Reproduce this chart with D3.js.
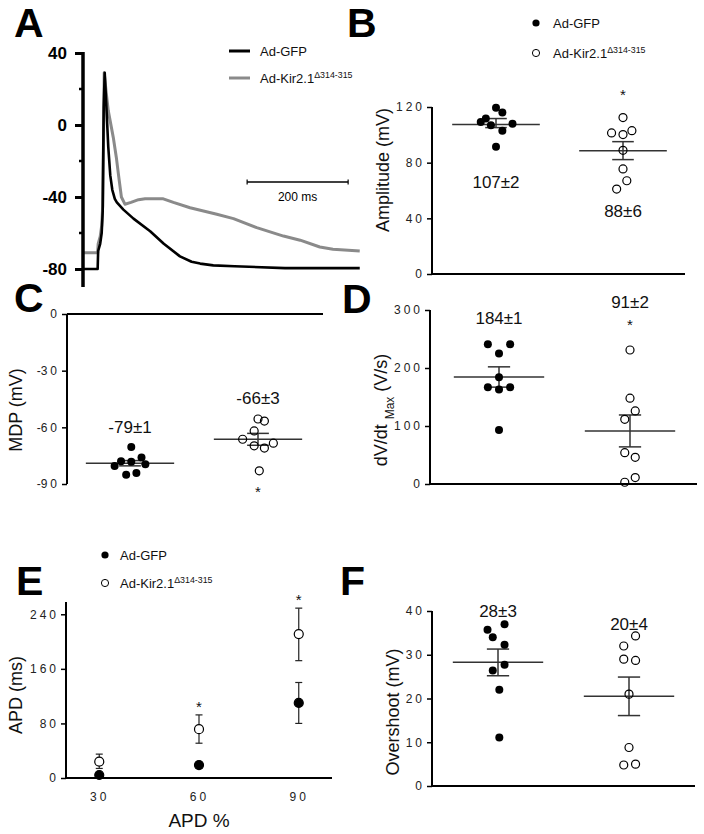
<!DOCTYPE html>
<html><head><meta charset="utf-8">
<script src="https://cdn.jsdelivr.net/npm/d3@7"></script>
<style>
body{margin:0;background:#fff}
svg{display:block}
text{font-family:"Liberation Sans",Arial,Helvetica,sans-serif}
</style>
</head><body>
<svg id="fig" width="704" height="834"></svg>
<script>
// ---------- DATA ----------
const seriesNames = ["Ad-GFP", "Ad-Kir2.1"];
const seriesSup = ["", "\u0394314-315"];

// Panel A: action potential traces (time ms, membrane potential mV)
const gfpTime = [0, 29, 30, 34, 37, 39, 41, 43, 46, 50, 54, 58, 63, 67, 80, 100, 133, 160, 192, 215, 232, 258, 300, 400, 548];
const gfpMV   = [-80, -80, -70, -66, -60, -48, 10, 29, 12, -12, -28, -36, -41, -43, -47, -52, -59, -66, -73, -76, -77, -78, -78.5, -79.5, -79.5];
const kirTime = [0, 29, 30, 34, 37, 39, 41, 42, 46, 50, 60, 66, 70, 76, 83, 95, 110, 123, 159, 179, 212, 265, 298, 344, 397, 430, 469, 495, 548];
const kirMV   = [-71, -71, -66, -62, -56, -45, 0, 29, 18, 8, -7, -18, -27, -40, -44, -43, -41.5, -41, -41, -43, -46, -49.6, -52, -57, -61.7, -64, -67.8, -69, -70];
const aTicks = [40, 0, -40, -80];
const aMinorTicks = [20, -20, -60];

// Panel B: amplitude (mV)
const ampGFP = [119.4, 116, 111.7, 109.3, 106.9, 103, 107.9, 91.5];
const ampKir = [112.4, 101.4, 100.2, 103, 88.9, 75.5, 67, 61];
const ampJitGFP = [0, .05, -.08, -.12, -.04, .05, .13, 0];
const ampJitKir = [0, -.09, 0, .07, 0, 0, .03, -.05];
const ampMean = [107.5, 88.6];
const ampErrHi = [111.7, 95.1];
const ampErrLo = [105.2, 82.2];
const ampLabels = ["107\u00b12", "88\u00b16"];
const ampTicks = [0, 40, 80, 120];

// Panel C: MDP (mV)
const mdpGFP = [-70.4, -77.9, -78.2, -76, -80.5, -79.6, -85.1, -84.2];
const mdpKir = [-55.6, -56.7, -61.9, -66.3, -69.8, -71, -68.4, -83];
const mdpJitGFP = [.01, -.07, .01, .09, -.12, .12, -.03, .05];
const mdpJitKir = [0, .05, -.03, -.12, -.03, .05, .12, .01];
const mdpMean = [-79, -66.3];
const mdpErrHi = [-77.6, -63.2];
const mdpErrLo = [-80.4, -69.5];
const mdpLabels = ["-79\u00b11", "-66\u00b13"];
const mdpTicks = [0, -30, -60, -90];

// Panel D: dV/dt max (V/s)
const dvGFP = [241, 241, 225, 184, 167, 163, 167, 93];
const dvKir = [231, 148, 126, 111.5, 54, 46, 3, 11];
const dvJitGFP = [-.085, .085, 0, 0, -.085, 0, .085, 0];
const dvJitKir = [0, 0, .04, -.04, -.04, .04, -.04, .04];
const dvMean = [184.5, 91.4];
const dvErrHi = [202, 119];
const dvErrLo = [167, 64];
const dvLabels = ["184\u00b11", "91\u00b12"];
const dvTicks = [0, 100, 200, 300];

// Panel E: APD (ms) at APD %
const apdPct = [30, 60, 90];
const apdGFP = [4.4, 19, 110];
const apdGFPHi = [7, 23, 140];
const apdGFPLo = [2, 15, 80];
const apdKir = [24, 71.5, 211];
const apdKirHi = [35, 92.5, 249];
const apdKirLo = [14, 51, 172];
const apdTicks = [0, 80, 160, 240];

// Panel F: overshoot (mV)
const ovGFP = [35.7, 37, 34, 32.3, 26.4, 27.7, 22, 11.1];
const ovKir = [34.3, 32, 29, 28.7, 21, 8.8, 4.8, 5];
const ovJitGFP = [-.08, .05, -.04, .05, -.04, .05, .01, .01];
const ovJitKir = [.05, -.04, -.04, .05, 0, 0, -.04, .05];
const ovMean = [28.3, 20.5];
const ovErrHi = [31.3, 24.9];
const ovErrLo = [25.2, 16.1];
const ovLabels = ["28\u00b13", "20\u00b14"];
const ovTicks = [0, 10, 20, 30, 40];

// ---------- DRAWING ----------
const svg = d3.select("#fig");
const FONT = '"Liberation Sans",Arial,Helvetica,sans-serif';
const fmt = d => String(d);

function panelLetter(t, x, y) {
  svg.append("text").attr("x", x).attr("y", y).text(t)
    .attr("font-size", 41).attr("font-weight", "bold").attr("fill", "#000");
}

function legendLabel(g, x, y, i, size) {
  const t = g.append("text").attr("x", x).attr("y", y).attr("dy", "0.35em")
    .attr("font-size", size).attr("fill", "#111");
  t.append("tspan").text(seriesNames[i]);
  if (seriesSup[i]) t.append("tspan").attr("font-size", size * 0.68).attr("dy", "-0.55em").text(seriesSup[i]);
}

function styleTicks(axisG) {
  axisG.selectAll("text").attr("font-size", 12).attr("fill", "#222").attr("font-family", FONT)
    .each(function (d) {
      const s = String(d), el = d3.select(this);
      el.text(null);
      if (s[0] === "-") {
        el.append("tspan").attr("letter-spacing", "0px").text("-");
        el.append("tspan").attr("letter-spacing", "3px").text(s.slice(1));
      } else {
        el.append("tspan").attr("letter-spacing", "3px").text(s);
      }
    });
  axisG.selectAll("line").attr("stroke", "#000").attr("stroke-width", 1.5);
  axisG.select(".domain").remove();
}

// Panel A
(function () {
  panelLetter("A", 14, 37);
  const x = d3.scaleLinear().domain([0, 550]).range([83, 360.75]);
  const y = d3.scaleLinear().domain([-90, 40]).range([287, 53]);
  const g = svg.append("g");
  const line = d3.line().x(d => x(d[0])).y(d => y(d[1]));
  g.append("path").datum(kirTime.map((t, i) => [t, kirMV[i]]))
    .attr("d", line).attr("fill", "none").attr("stroke", "#8a8a8a").attr("stroke-width", 3).attr("stroke-linejoin", "round");
  g.append("path").datum(gfpTime.map((t, i) => [t, gfpMV[i]]))
    .attr("d", line).attr("fill", "none").attr("stroke", "#000").attr("stroke-width", 2.6).attr("stroke-linejoin", "round");
  const ax = g.append("g").attr("transform", "translate(83,0)")
    .call(d3.axisLeft(y).tickValues(aTicks).tickSize(8).tickPadding(8).tickFormat(fmt));
  ax.select(".domain").remove();
  ax.selectAll("line").attr("stroke", "#000").attr("stroke-width", 3);
  ax.selectAll("text").attr("font-size", 17).attr("font-weight", "bold").attr("fill", "#000").attr("font-family", FONT);
  g.selectAll(".minor").data(aMinorTicks).enter().append("line")
    .attr("x1", 79).attr("x2", 83).attr("y1", d => y(d)).attr("y2", d => y(d))
    .attr("stroke", "#000").attr("stroke-width", 2.5);
  g.append("line").attr("x1", 83).attr("x2", 83).attr("y1", y(40) - 1).attr("y2", y(-90))
    .attr("stroke", "#000").attr("stroke-width", 3.5);
  const x0 = x(325), x1 = x(525);
  g.append("line").attr("x1", x0).attr("x2", x1).attr("y1", 182).attr("y2", 182).attr("stroke", "#000").attr("stroke-width", 1.5);
  [x0, x1].forEach(xx => g.append("line").attr("x1", xx).attr("x2", xx).attr("y1", 179.5).attr("y2", 184.5).attr("stroke", "#000").attr("stroke-width", 1.2));
  g.append("text").attr("x", (x0 + x1) / 2).attr("y", 197).attr("dy", "0.35em").attr("text-anchor", "middle")
    .attr("font-size", 12).text("200 ms");
  const colors = ["#000", "#8a8a8a"];
  [51, 78].forEach((ly, i) => {
    g.append("line").attr("x1", 229).attr("x2", 250).attr("y1", ly).attr("y2", ly).attr("stroke", colors[i]).attr("stroke-width", 3);
    legendLabel(g, 260, ly, i, 13);
  });
})();

// Scatter panels
function scatterPanel(cfg) {
  const g = svg.append("g");
  const y = d3.scaleLinear().domain(cfg.yDomain).range(cfg.yRange);
  const x = d3.scaleLinear().domain([0, 1]).range(cfg.centers);
  g.append("line").attr("x1", cfg.axisX).attr("x2", cfg.axisX)
    .attr("y1", d3.min(cfg.yRange)).attr("y2", d3.max(cfg.yRange)).attr("stroke", "#000").attr("stroke-width", 2);
  const xAxisY = cfg.xAxisAtTop ? d3.min(cfg.yRange) : d3.max(cfg.yRange);
  g.append("line").attr("x1", cfg.axisX).attr("x2", cfg.axisEnd)
    .attr("y1", xAxisY).attr("y2", xAxisY).attr("stroke", "#000").attr("stroke-width", 2);
  const ax = g.append("g").attr("transform", `translate(${cfg.axisX},0)`)
    .call(d3.axisLeft(y).tickValues(cfg.ticks).tickSize(5).tickPadding(2).tickFormat(fmt));
  styleTicks(ax);
  const lab = g.append("text").attr("transform", `translate(${cfg.labelX},${cfg.labelY}) rotate(-90)`)
    .attr("text-anchor", "middle").attr("dy", "0.35em").attr("font-size", 18).attr("fill", "#111");
  cfg.label.forEach(p => {
    const ts = lab.append("tspan").text(p.t);
    if (p.sub) ts.attr("font-size", 12).attr("baseline-shift", "sub");
  });
  const hw = 0.345, cw = 0.085;
  [0, 1].forEach(i => {
    g.append("line").attr("x1", x(i - hw)).attr("x2", x(i + hw)).attr("y1", y(cfg.mean[i])).attr("y2", y(cfg.mean[i]))
      .attr("stroke", "#333").attr("stroke-width", 1.5);
    g.append("line").attr("x1", x(i)).attr("x2", x(i)).attr("y1", y(cfg.hi[i])).attr("y2", y(cfg.lo[i]))
      .attr("stroke", "#333").attr("stroke-width", 1.5);
    [cfg.hi[i], cfg.lo[i]].forEach(v => g.append("line").attr("x1", x(i - cw)).attr("x2", x(i + cw))
      .attr("y1", y(v)).attr("y2", y(v)).attr("stroke", "#333").attr("stroke-width", 1.5));
  });
  g.selectAll(".g0").data(cfg.vals[0]).enter().append("circle")
    .attr("cx", (d, j) => x(0 + cfg.jit[0][j])).attr("cy", d => y(d)).attr("r", 4).attr("fill", "#000");
  g.selectAll(".g1").data(cfg.vals[1]).enter().append("circle")
    .attr("cx", (d, j) => x(1 + cfg.jit[1][j])).attr("cy", d => y(d)).attr("r", 4)
    .attr("fill", "none").attr("stroke", "#000").attr("stroke-width", 1.2);
  cfg.texts.forEach((t, i) => g.append("text").attr("x", x(i)).attr("y", cfg.textY[i]).attr("dy", "0.35em")
    .attr("text-anchor", "middle").attr("font-size", 17).attr("fill", "#111").text(t));
  if (cfg.starY != null) g.append("text").attr("x", x(1)).attr("y", cfg.starY).attr("dy", "0.6em").attr("text-anchor", "middle")
    .attr("font-size", 15).attr("fill", "#111").text("*");
  return g;
}

// Panel B
panelLetter("B", 347, 37);
const gB = scatterPanel({
  yDomain: [0, 120], yRange: [274, 107], axisX: 432, axisEnd: 685, centers: [496, 623],
  ticks: ampTicks, vals: [ampGFP, ampKir], jit: [ampJitGFP, ampJitKir],
  mean: ampMean, hi: ampErrHi, lo: ampErrLo, texts: ampLabels, textY: [182, 211], starY: 91,
  label: [{t: "Amplitude (mV)"}], labelX: 383, labelY: 170
});
[23, 53].forEach((ly, i) => {
  const c = gB.append("circle").attr("cx", 536).attr("cy", ly).attr("r", 3.6);
  if (i === 0) c.attr("fill", "#000"); else c.attr("fill", "none").attr("stroke", "#000").attr("stroke-width", 1);
  legendLabel(gB, 553, ly, i, 13);
});

// Panel C
panelLetter("C", 14, 312);
scatterPanel({
  yDomain: [-90, 0], yRange: [484, 314], axisX: 67, axisEnd: 323, centers: [130, 258], xAxisAtTop: true,
  ticks: mdpTicks, vals: [mdpGFP, mdpKir], jit: [mdpJitGFP, mdpJitKir],
  mean: mdpMean, hi: mdpErrHi, lo: mdpErrLo, texts: mdpLabels, textY: [427, 398], starY: 488,
  label: [{t: "MDP (mV)"}], labelX: 16, labelY: 410
});

// Panel D
panelLetter("D", 342, 313);
scatterPanel({
  yDomain: [0, 300], yRange: [484, 310], axisX: 430, axisEnd: 697, centers: [499, 630],
  ticks: dvTicks, vals: [dvGFP, dvKir], jit: [dvJitGFP, dvJitKir],
  mean: dvMean, hi: dvErrHi, lo: dvErrLo, texts: dvLabels, textY: [318, 302], starY: 321,
  label: [{t: "dV/dt "}, {t: "Max", sub: true}, {t: " (V/s)"}], labelX: 381, labelY: 410
});

// Panel F
panelLetter("F", 340, 595);
scatterPanel({
  yDomain: [0, 40], yRange: [786, 611], axisX: 432, axisEnd: 695, centers: [498, 629],
  ticks: ovTicks, vals: [ovGFP, ovKir], jit: [ovJitGFP, ovJitKir],
  mean: ovMean, hi: ovErrHi, lo: ovErrLo, texts: ovLabels, textY: [611, 624], starY: null,
  label: [{t: "Overshoot (mV)"}], labelX: 393, labelY: 712
});

// Panel E
(function () {
  panelLetter("E", 16, 595);
  const g = svg.append("g");
  const x = d3.scaleLinear().domain([20, 100]).range([66, 332]);
  const y = d3.scaleLinear().domain([0, 258]).range([778, 602]);
  g.append("line").attr("x1", 66).attr("x2", 66).attr("y1", 602).attr("y2", 778).attr("stroke", "#000").attr("stroke-width", 2);
  g.append("line").attr("x1", 66).attr("x2", 332).attr("y1", 778).attr("y2", 778).attr("stroke", "#000").attr("stroke-width", 2);
  const ay = g.append("g").attr("transform", "translate(66,0)")
    .call(d3.axisLeft(y).tickValues(apdTicks).tickSize(5).tickPadding(2).tickFormat(fmt));
  styleTicks(ay);
  const axx = g.append("g").attr("transform", "translate(0,778)")
    .call(d3.axisBottom(x).tickValues(apdPct).tickSize(0).tickPadding(14).tickFormat(fmt));
  styleTicks(axx);
  g.append("text").attr("x", x(60)).attr("y", 820).attr("dy", "0.35em").attr("text-anchor", "middle")
    .attr("font-size", 19).attr("fill", "#111").text("APD %");
  g.append("text").attr("transform", "translate(16,695) rotate(-90)").attr("text-anchor", "middle")
    .attr("dy", "0.35em").attr("font-size", 18).attr("fill", "#111").text("APD (ms)");
  const sets = [
    {v: apdGFP, hi: apdGFPHi, lo: apdGFPLo, fill: "#000"},
    {v: apdKir, hi: apdKirHi, lo: apdKirLo, fill: "#fff"}
  ];
  sets.forEach(s => {
    apdPct.forEach((p, i) => {
      g.append("line").attr("x1", x(p)).attr("x2", x(p)).attr("y1", y(s.hi[i])).attr("y2", y(s.lo[i]))
        .attr("stroke", "#222").attr("stroke-width", 1.2);
      [s.hi[i], s.lo[i]].forEach(v => g.append("line").attr("x1", x(p) - 3.5).attr("x2", x(p) + 3.5)
        .attr("y1", y(v)).attr("y2", y(v)).attr("stroke", "#222").attr("stroke-width", 1.2));
    });
  });
  sets.forEach(s => {
    g.selectAll(null).data(s.v).enter().append("circle")
      .attr("cx", (d, i) => x(apdPct[i])).attr("cy", d => y(d)).attr("r", 4.5)
      .attr("fill", s.fill).attr("stroke", "#000").attr("stroke-width", 1.2);
  });
  [[60, 703], [90, 596]].forEach(([p, sy]) => g.append("text").attr("x", x(p)).attr("y", sy).attr("dy", "0.6em")
    .attr("text-anchor", "middle").attr("font-size", 15).attr("fill", "#111").text("*"));
  [555, 583].forEach((ly, i) => {
    const c = g.append("circle").attr("cx", 105).attr("cy", ly).attr("r", 3.6);
    if (i === 0) c.attr("fill", "#000"); else c.attr("fill", "none").attr("stroke", "#000").attr("stroke-width", 1);
    legendLabel(g, 120, ly, i, 13);
  });
})();
</script>
</body></html>
